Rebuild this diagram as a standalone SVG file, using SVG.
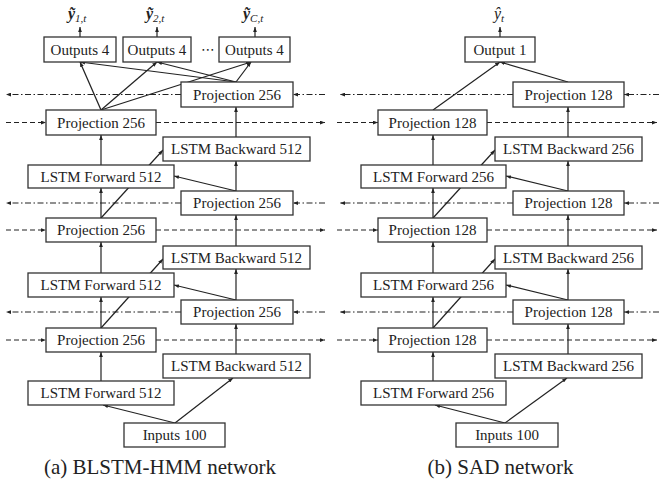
<svg xmlns="http://www.w3.org/2000/svg" width="659" height="484" viewBox="0 0 659 484">
<defs>
<marker id="ah" viewBox="0 0 8 6" refX="8" refY="3" markerWidth="5" markerHeight="4" orient="auto" markerUnits="userSpaceOnUse"><path d="M0,0 L8,3 L0,6 z" fill="#222"/></marker>
</defs>
<style>
.box{fill:#fff;stroke:#333;stroke-width:1.3}
.t{font-family:"Liberation Serif","Times New Roman",serif;font-size:15px;fill:#222;text-anchor:middle}
.c{stroke:#222;stroke-width:1.2;fill:none;marker-end:url(#ah)}
.dd{stroke-dasharray:6 2.5 1.5 2.5}
.ds{stroke-dasharray:5 3}
.m{font-family:"Liberation Serif","Times New Roman",serif;fill:#222}
.cap{font-family:"Liberation Serif","Times New Roman",serif;font-size:21px;fill:#222;text-anchor:middle}
</style>
<rect width="659" height="484" fill="#fff"/>
<g id="connectors">
<!-- panel a -->
<path class="c" d="M80,37V27"/><path class="c" d="M157,37V27"/><path class="c" d="M255,37V27"/>
<path class="c" d="M101,110L80,62"/><path class="c" d="M101,110L157,62"/><path class="c" d="M101,110L251,62"/>
<path class="c" d="M236,82L80,62"/><path class="c" d="M236,82L157,62"/><path class="c" d="M236,82L251,62"/>
<path class="c" d="M101,165V135"/><path class="c" d="M101,218V188"/><path class="c" d="M101,273V242"/><path class="c" d="M101,328V297"/><path class="c" d="M101,381V352"/>
<path class="c" d="M236,137V107"/><path class="c" d="M236,191V161"/><path class="c" d="M236,246V215"/><path class="c" d="M236,300V269"/><path class="c" d="M236,354V324"/>
<path class="c" d="M101,218L163,150"/><path class="c" d="M101,328L163,259"/>
<path class="c" d="M236,191L174,176"/><path class="c" d="M236,300L174,285"/>
<path class="c" d="M175,423L103,405"/><path class="c" d="M175,423L233,378"/>
<path class="c dd" d="M181,94.5H6"/><path class="c dd" d="M325,94.5H293"/>
<path class="c ds" d="M6,122.5H46"/><path class="c ds" d="M156,122.5H325"/>
<path class="c dd" d="M181,203H6"/><path class="c dd" d="M325,203H293"/>
<path class="c ds" d="M6,230H46"/><path class="c ds" d="M156,230H325"/>
<path class="c dd" d="M181,312H6"/><path class="c dd" d="M325,312H293"/>
<path class="c ds" d="M6,340H46"/><path class="c ds" d="M156,340H325"/>
<!-- panel b -->
<path class="c" d="M500,37V27"/>
<path class="c" d="M433,110L500,62"/><path class="c" d="M568,82L500,62"/>
<path class="c" d="M433,165V135"/><path class="c" d="M433,218V188"/><path class="c" d="M433,273V242"/><path class="c" d="M433,328V297"/><path class="c" d="M433,381V352"/>
<path class="c" d="M568,137V107"/><path class="c" d="M568,191V161"/><path class="c" d="M568,246V215"/><path class="c" d="M568,300V269"/><path class="c" d="M568,354V324"/>
<path class="c" d="M433,218L495,150"/><path class="c" d="M433,328L495,259"/>
<path class="c" d="M568,191L506,176"/><path class="c" d="M568,300L506,285"/>
<path class="c" d="M505,423L435,405"/><path class="c" d="M505,423L567,378"/>
<path class="c dd" d="M513,94.5H340"/><path class="c dd" d="M659,94.5H624"/>
<path class="c ds" d="M337,122.5H378"/><path class="c ds" d="M487,122.5H657"/>
<path class="c dd" d="M513,203H340"/><path class="c dd" d="M659,203H624"/>
<path class="c ds" d="M337,230H378"/><path class="c ds" d="M487,230H657"/>
<path class="c dd" d="M513,312H340"/><path class="c dd" d="M659,312H624"/>
<path class="c ds" d="M337,340H378"/><path class="c ds" d="M487,340H657"/>
</g>
<!-- panel a nodes -->
<g id="a-y1"><text class="m" x="68" y="19"><tspan font-size="16" font-weight="bold" font-style="italic">ỹ</tspan><tspan font-size="11" font-style="italic" dy="3">1,t</tspan></text></g>
<g id="a-y2"><text class="m" x="146" y="19"><tspan font-size="16" font-weight="bold" font-style="italic">ỹ</tspan><tspan font-size="11" font-style="italic" dy="3">2,t</tspan></text></g>
<g id="a-yC"><text class="m" x="243" y="19"><tspan font-size="16" font-weight="bold" font-style="italic">ỹ</tspan><tspan font-size="11" font-style="italic" dy="3">C,t</tspan></text></g>
<g id="a-out1"><rect class="box" x="44" y="37" width="72" height="25"/><text class="t" x="80" y="54.5">Outputs 4</text></g>
<g id="a-out2"><rect class="box" x="123" y="37" width="68" height="25"/><text class="t" x="157" y="54.5">Outputs 4</text></g>
<g id="a-dots"><text x="208" y="54" font-family="DejaVu Sans, sans-serif" font-size="14" fill="#222" text-anchor="middle">⋯</text></g>
<g id="a-out3"><rect class="box" x="219" y="37" width="71" height="25"/><text class="t" x="254.5" y="54.5">Outputs 4</text></g>
<g id="a-projR1"><rect class="box" x="181" y="82" width="112" height="25"/><text class="t" x="237" y="99.5">Projection 256</text></g>
<g id="a-projL1"><rect class="box" x="46" y="110" width="110" height="25"/><text class="t" x="101" y="127.5">Projection 256</text></g>
<g id="a-bwd1"><rect class="box" x="163" y="137" width="147" height="24"/><text class="t" x="236.5" y="154">LSTM Backward 512</text></g>
<g id="a-fwd1"><rect class="box" x="28" y="165" width="146" height="23"/><text class="t" x="101" y="181.5">LSTM Forward 512</text></g>
<g id="a-projR2"><rect class="box" x="181" y="191" width="112" height="24"/><text class="t" x="237" y="208">Projection 256</text></g>
<g id="a-projL2"><rect class="box" x="46" y="218" width="110" height="24"/><text class="t" x="101" y="235">Projection 256</text></g>
<g id="a-bwd2"><rect class="box" x="163" y="246" width="147" height="23"/><text class="t" x="236.5" y="262.5">LSTM Backward 512</text></g>
<g id="a-fwd2"><rect class="box" x="28" y="273" width="146" height="24"/><text class="t" x="101" y="290">LSTM Forward 512</text></g>
<g id="a-projR3"><rect class="box" x="181" y="300" width="112" height="24"/><text class="t" x="237" y="317">Projection 256</text></g>
<g id="a-projL3"><rect class="box" x="46" y="328" width="110" height="24"/><text class="t" x="101" y="345">Projection 256</text></g>
<g id="a-bwd3"><rect class="box" x="163" y="354" width="147" height="24"/><text class="t" x="236.5" y="371">LSTM Backward 512</text></g>
<g id="a-fwd3"><rect class="box" x="28" y="381" width="146" height="24"/><text class="t" x="101" y="398">LSTM Forward 512</text></g>
<g id="a-in"><rect class="box" x="124" y="423" width="101" height="24"/><text class="t" x="174.5" y="440">Inputs 100</text></g>
<g id="a-caption"><text class="cap" x="160" y="474">(a) BLSTM-HMM network</text></g>
<!-- panel b nodes -->
<g id="b-y"><text class="m" x="494" y="19"><tspan font-size="16" font-style="italic">ŷ</tspan><tspan font-size="11" font-style="italic" dy="3">t</tspan></text></g>
<g id="b-out"><rect class="box" x="465" y="37" width="70" height="25"/><text class="t" x="500" y="54.5">Output 1</text></g>
<g id="b-projR1"><rect class="box" x="513" y="82" width="111" height="25"/><text class="t" x="568.5" y="99.5">Projection 128</text></g>
<g id="b-projL1"><rect class="box" x="378" y="110" width="109" height="25"/><text class="t" x="432.5" y="127.5">Projection 128</text></g>
<g id="b-bwd1"><rect class="box" x="495" y="137" width="147" height="24"/><text class="t" x="568.5" y="154">LSTM Backward 256</text></g>
<g id="b-fwd1"><rect class="box" x="361" y="165" width="145" height="23"/><text class="t" x="433.5" y="181.5">LSTM Forward 256</text></g>
<g id="b-projR2"><rect class="box" x="513" y="191" width="111" height="24"/><text class="t" x="568.5" y="208">Projection 128</text></g>
<g id="b-projL2"><rect class="box" x="378" y="218" width="109" height="24"/><text class="t" x="432.5" y="235">Projection 128</text></g>
<g id="b-bwd2"><rect class="box" x="495" y="246" width="147" height="23"/><text class="t" x="568.5" y="262.5">LSTM Backward 256</text></g>
<g id="b-fwd2"><rect class="box" x="361" y="273" width="145" height="24"/><text class="t" x="433.5" y="290">LSTM Forward 256</text></g>
<g id="b-projR3"><rect class="box" x="513" y="300" width="111" height="24"/><text class="t" x="568.5" y="317">Projection 128</text></g>
<g id="b-projL3"><rect class="box" x="378" y="328" width="109" height="24"/><text class="t" x="432.5" y="345">Projection 128</text></g>
<g id="b-bwd3"><rect class="box" x="495" y="354" width="147" height="24"/><text class="t" x="568.5" y="371">LSTM Backward 256</text></g>
<g id="b-fwd3"><rect class="box" x="361" y="381" width="145" height="24"/><text class="t" x="433.5" y="398">LSTM Forward 256</text></g>
<g id="b-in"><rect class="box" x="456" y="423" width="102" height="24"/><text class="t" x="507" y="440">Inputs 100</text></g>
<g id="b-caption"><text class="cap" x="500.5" y="474">(b) SAD network</text></g>
</svg>
